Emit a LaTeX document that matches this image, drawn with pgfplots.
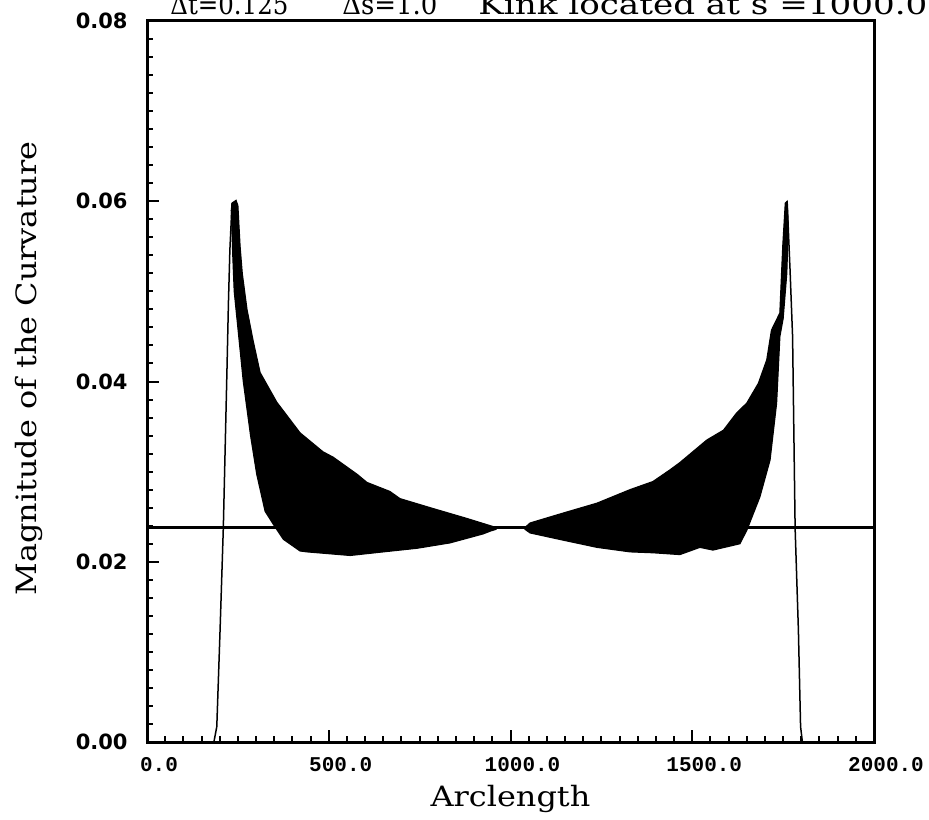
\documentclass[border=0pt]{standalone}
\usepackage{pgfplots}
\pgfplotsset{compat=1.18}
\usepackage{pgfplotstable}
\usepackage{fontspec}
\setmainfont[FakeStretch=1.14]{DejaVu Serif}
\newfontfamily\titlefont{DejaVu Serif}
\newfontfamily\ticksans{DejaVu Sans}
\newfontfamily\tickmono{Liberation Mono}

% left outer rising line
\pgfplotstableread{
s k
0 0
184 0
192 0.0017
201 0.0124
210 0.0238
220 0.0413
224 0.0487
228 0.0546
234 0.0598
}\leftedge

% right outer falling line
\pgfplotstableread{
s k
1761 0.0600
1769 0.0524
1776 0.0450
1783 0.0237
1792 0.0124
1798 0.0017
1803 0
2000 0
}\rightedge

% left oscillating band (upper envelope, then lower envelope back)
\pgfplotstableread{
s k
234 0.0598
245 0.0601
250 0.0595
256 0.0550
262 0.0520
275 0.0480
292 0.0445
311 0.0410
357 0.0377
421 0.0343
484 0.0322
512 0.0316
578 0.0297
605 0.0288
668 0.0278
696 0.0270
787 0.0259
880 0.0248
944 0.0240
960 0.0238
960 0.0236
944 0.0234
925 0.0231
834 0.0221
743 0.0215
650 0.0211
559 0.0207
440 0.0211
421 0.0212
375 0.0225
347 0.0242
325 0.0256
302 0.0297
285 0.0340
265 0.0400
250 0.0460
240 0.0500
236 0.0540
232 0.0590
234 0.0598
}\leftband

% right oscillating band
\pgfplotstableread{
s k
1040 0.0238
1054 0.0243
1145 0.0254
1238 0.0265
1329 0.0280
1392 0.0289
1439 0.0302
1466 0.0310
1540 0.0335
1586 0.0346
1622 0.0365
1650 0.0376
1682 0.0398
1705 0.0424
1718 0.0457
1741 0.0476
1749 0.0550
1756 0.0598
1761 0.0600
1764 0.0570
1760 0.0520
1750 0.0470
1741 0.0450
1732 0.0376
1714 0.0313
1686 0.0272
1650 0.0235
1631 0.0220
1557 0.0213
1521 0.0216
1466 0.0208
1392 0.0210
1329 0.0211
1238 0.0216
1145 0.0224
1054 0.0232
1040 0.0236
1040 0.0238
}\rightband

% horizontal line
\pgfplotstableread{
s k
0 0.0238
2000 0.0238
}\flatline

\begin{document}
\begin{tikzpicture}
\begin{axis}[
  at={(0,0)}, anchor=south west,
  scale only axis,
  width=363.5pt, height=360.5pt,
  xmin=0, xmax=2000, ymin=0, ymax=0.08,
  xtick={0,500,1000,1500,2000},
  ytick={0,0.02,0.04,0.06,0.08},
  scaled x ticks=false, scaled y ticks=false,
  minor x tick num=9, minor y tick num=9,
  tick align=inside,
  xtick pos=bottom, ytick pos=left,
  major tick length=6pt, minor tick length=3pt,
  axis line style={line width=1.5pt},
  every tick/.style={black, line width=1pt},
  /pgf/number format/assume math mode=true,
  xticklabel={\pgfmathprintnumber[fixed,fixed zerofill,precision=1,1000 sep={}]{\tick}},
  yticklabel={\pgfmathprintnumber[fixed,fixed zerofill,precision=2]{\tick}},
  xticklabel style={font=\tickmono\bfseries\fontsize{10.5}{12}\selectfont, anchor=north, inner sep=0pt, yshift=-7.5pt, xshift=6pt},
  yticklabel style={font=\ticksans\bfseries\fontsize{10.5}{13}\selectfont, anchor=east, inner sep=0pt, xshift=-9.5pt},
  xlabel={Arclength},
  ylabel={Magnitude of the Curvature},
  xlabel style={font=\fontsize{14}{16}\selectfont, at={(axis description cs:0.5,-0.0888)}, anchor=base},
  ylabel style={font=\fontsize{14}{16}\selectfont, at={(axis description cs:-0.1513,0.518)}, anchor=base},
  clip=false,
]
\addplot[black, line width=0.75pt] table[x=s,y=k] {\leftedge};
\addplot[black, line width=0.75pt] table[x=s,y=k] {\rightedge};
\addplot[black, fill=black, line width=0.6pt] table[x=s,y=k] {\leftband};
\addplot[black, fill=black, line width=0.6pt] table[x=s,y=k] {\rightband};
\addplot[black, line width=1.5pt] table[x=s,y=k] {\flatline};
\end{axis}
\node[anchor=base west, inner sep=0pt, font=\titlefont\fontsize{14}{16}\selectfont] at (11.5pt,363.5pt) {\resizebox{59pt}{\height}{Δt=0.125}};
\node[anchor=base west, inner sep=0pt, font=\titlefont\fontsize{14}{16}\selectfont] at (97.5pt,363.5pt) {\resizebox{47.5pt}{\height}{Δs=1.0}};
\node[anchor=base west, inner sep=0pt, font=\titlefont\fontsize{14}{16}\selectfont] at (165.5pt,363.5pt) {\resizebox{224.5pt}{\height}{Kink located at s =1000.0}};
\pgfresetboundingbox
\path[use as bounding box] (-73.5pt,-38.5pt) rectangle (391pt,371pt);
\end{tikzpicture}
\end{document}
